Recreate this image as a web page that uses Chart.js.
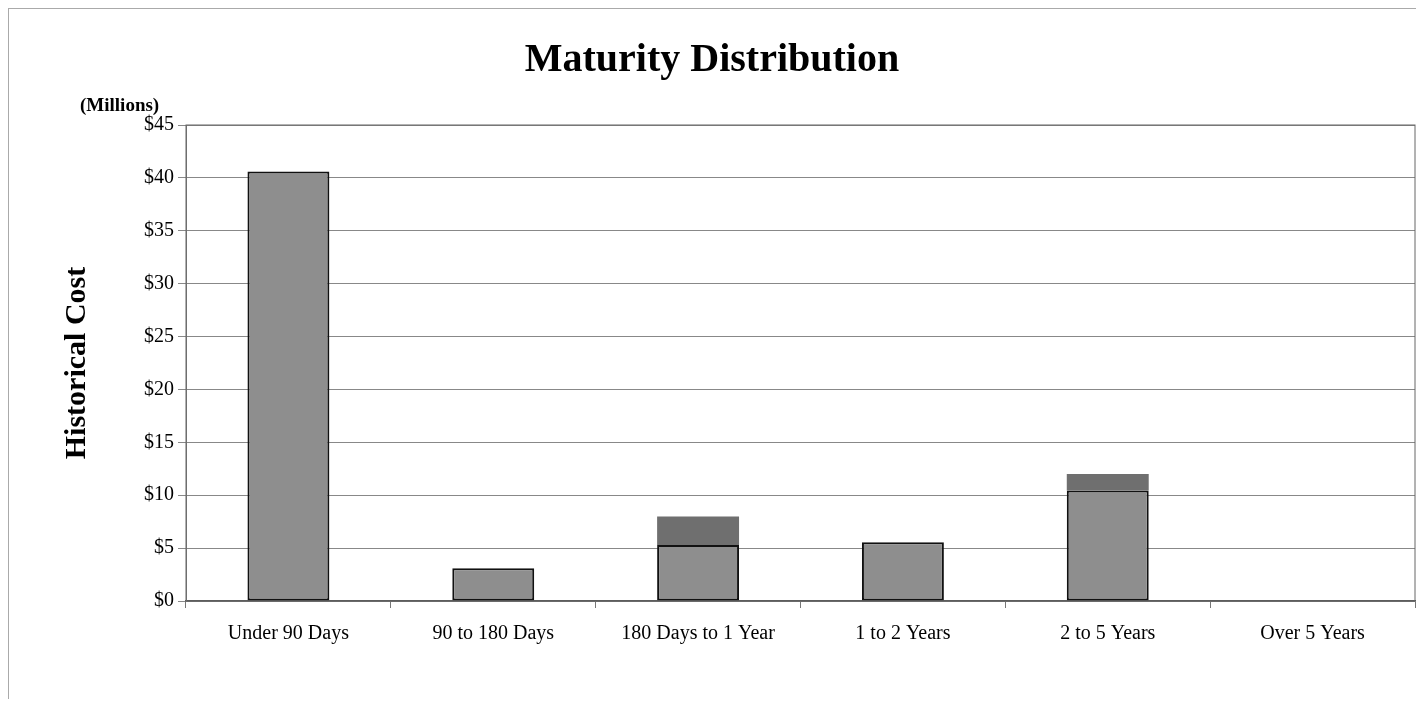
<!DOCTYPE html>
<html><head>
<script src="https://cdn.jsdelivr.net/npm/chart.js"></script>
<style>
body{margin:0;background:#fff;}
#wrap{position:absolute;left:8px;top:8px;width:1420px;height:690px;border-left:1px solid #aaa;border-top:1px solid #aaa;}
#unit{position:absolute;left:80px;top:94px;font:bold 19px "Liberation Serif";}
</style></head><body>
<div id="wrap"><canvas id="c" width="1420" height="690"></canvas></div>
<div id="unit">(Millions)</div>
<script>
const categories = ['Under 90 Days','90 to 180 Days','180 Days to 1 Year','1 to 2 Years','2 to 5 Years','Over 5 Years'];
const baseValues = [40.6, 3.1, 5.3, 5.55, 10.45, 0];
const topValues = [0, 0, 2.7, 0, 1.55, 0];
const yTicks = [0,5,10,15,20,25,30,35,40,45];

new Chart(document.getElementById('c'), {
  type: 'bar',
  data: {
    labels: categories,
    datasets: [
      { data: baseValues, backgroundColor: '#8e8e8e', borderColor: '#111', borderWidth: 2, borderSkipped: false, categoryPercentage: 1, barPercentage: 0.4 },
      { data: topValues, backgroundColor: '#6f6f6f', borderWidth: 0, categoryPercentage: 1, barPercentage: 0.4 }
    ]
  },
  options: {
    responsive: false, animation: false,
    layout: { padding: { left: 0, right: 14, top: 0, bottom: 39 } },
    plugins: {
      legend: { display: false }, tooltip: { enabled: false },
      title: { display: true, text: 'Maturity Distribution', color: '#000', font: { family: 'Liberation Serif', size: 40, weight: 'bold' }, padding: { top: 28, bottom: 40 } }
    },
    scales: {
      x: {
        stacked: true,
        grid: { offset: true, drawOnChartArea: false, color: '#777', tickLength: 7 },
        border: { color: '#555', width: 1.5 },
        ticks: { color: '#000', font: { family: 'Liberation Serif', size: 20 }, padding: 14 }
      },
      y: {
        stacked: true, min: 0, max: 45,
        afterBuildTicks: a => { a.ticks = yTicks.map(v => ({ value: v })); },
        afterFit: s => { s.width = 177; },
        grid: { color: '#888', tickLength: 8 },
        border: { color: '#777' },
        ticks: { color: '#000', font: { family: 'Liberation Serif', size: 20 }, padding: 4, callback: v => '$' + v },
        title: { display: true, text: 'Historical Cost', color: '#000', font: { family: 'Liberation Serif', size: 30, weight: 'bold' }, padding: { top: 50, bottom: 0 } }
      }
    }
  },
  plugins: [{
    id: 'frame',
    afterDraw(ch) {
      const a = ch.chartArea, c = ch.ctx;
      c.save(); c.strokeStyle = '#666'; c.lineWidth = 1;
      c.strokeRect(a.left, a.top, a.right - a.left, a.bottom - a.top);
      c.restore();
    }
  }]
});
</script>
</body></html>
